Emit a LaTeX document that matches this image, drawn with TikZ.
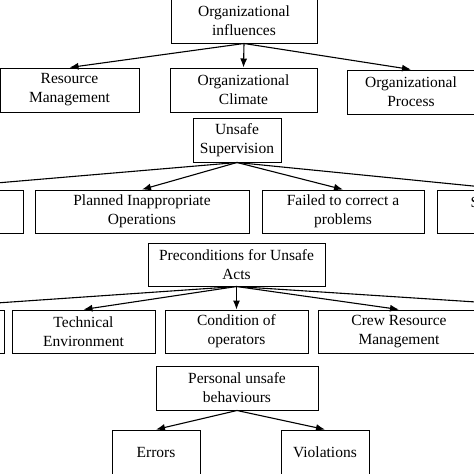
\documentclass[tikz,border=0pt]{standalone}
\usepackage{fontspec}
\setmainfont{Liberation Serif}
\usepackage{tikz}
\usetikzlibrary{arrows.meta}
\tikzstyle{tree}=[x=1pt, y=-1pt, line width=1pt, font=\fontsize{15.5}{19}\selectfont]
\tikzstyle{box}=[rectangle, draw, fill=white, align=center, inner sep=0pt, minimum height=44pt]
\tikzstyle{edge}=[line width=1.1pt, -{Latex[length=9pt,width=7pt]}]

\begin{document}
\begin{tikzpicture}[tree]
	\useasboundingbox (0,0) rectangle (474,474);
	\clip (0,0) rectangle (474,474);
	% level 1
	\draw (244,21) node[box, minimum width=146pt] (inf) {Organizational\\influences};
	\draw (69.5,90) node[box, minimum width=139pt] (rm) {Resource\\Management};
	\draw (243.5,90) node[box, minimum width=147pt] (oc) {Organizational\\Climate};
	\draw (411,92) node[box, minimum width=128pt] (op) {Organizational\\Process};
	\draw[edge] (inf.south) -- (rm.north);
	\draw[edge] (inf.south) -- (oc.north);
	\draw[edge] (inf.south) -- (op.north);
	% level 2
	\draw (237,140) node[box, minimum width=88pt] (us) {Unsafe\\Supervision};
	\draw (-80,211.5) node[box, minimum width=206pt, minimum height=43pt] (is) {};
	\draw (142,211.5) node[box, minimum width=214pt, minimum height=43pt] (pio) {Planned Inappropriate\\Operations};
	\draw (343,211.5) node[box, minimum width=162pt, minimum height=43pt] (fcp) {Failed to correct a\\problems};
	\draw (508,211.5) node[box, minimum width=142pt, minimum height=43pt] (sv) {Supervisory\\Violations};
	\draw[edge] (us.south) -- (is.north);
	\draw[edge] (us.south) -- (pio.north);
	\draw[edge] (us.south) -- (fcp.north);
	\draw[edge] (us.south) -- (sv.north);
	% level 3
	\draw (236.5,264.5) node[box, minimum width=177pt, minimum height=43pt] (pre) {Preconditions for Unsafe\\Acts};
	\draw (-98,331.5) node[box, minimum width=204pt, minimum height=43pt] (pe) {};
	\draw (83.5,331.5) node[box, minimum width=143pt, minimum height=43pt] (te) {Technical\\Environment};
	\draw (236.5,331.5) node[box, minimum width=143pt, minimum height=43pt] (co) {Condition of\\operators};
	\draw (399,331.5) node[box, minimum width=162pt, minimum height=43pt] (crm) {Crew Resource\\Management};
	\draw (592,331.5) node[box, minimum width=200pt, minimum height=43pt] (pr) {};
	\draw[edge] (pre.south) -- (pe.north);
	\draw[edge] (pre.south) -- (te.north);
	\draw[edge] (pre.south) -- (co.north);
	\draw[edge] (pre.south) -- (crm.north);
	\draw[edge] (pre.south) -- (pr.north);
	% level 4
	\draw (237,388) node[box, minimum width=162pt] (pub) {Personal unsafe\\behaviours};
	\draw (156,452) node[box, minimum width=88pt] (err) {Errors};
	\draw (325,452) node[box, minimum width=88pt] (vio) {Violations};
	\draw[edge] (pub.south) -- (err.north);
	\draw[edge] (pub.south) -- (vio.north);
\end{tikzpicture}
\end{document}
